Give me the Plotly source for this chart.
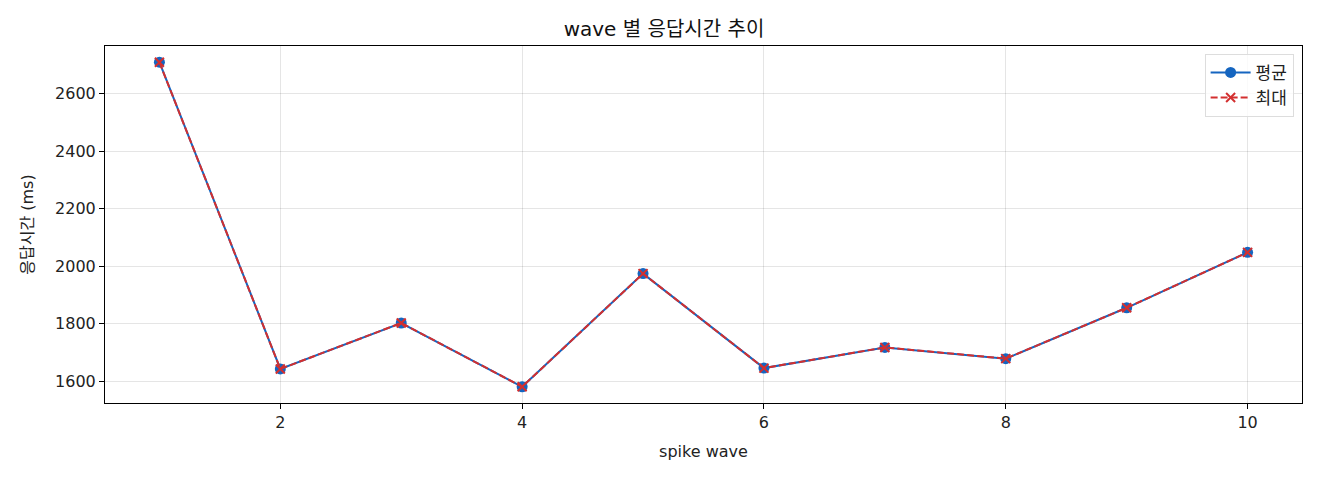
import plotly.graph_objects as go

# wave 번호와 응답시간 (ms)
waves = [1, 2, 3, 4, 5, 6, 7, 8, 9, 10]
avg_ms = [2710, 1642, 1802, 1580, 1974, 1645, 1717, 1678, 1855, 2048]
max_ms = [2710, 1642, 1802, 1580, 1974, 1645, 1717, 1678, 1855, 2048]

font_kr = "DejaVu Sans, Noto Sans CJK KR, sans-serif"

fig = go.Figure()

fig.add_trace(go.Scatter(
    x=waves, y=avg_ms,
    mode='lines+markers',
    name='평균',
    line=dict(color='#1565C0', width=2),
    marker=dict(symbol='circle', size=11, color='#1565C0'),
))

fig.add_trace(go.Scatter(
    x=waves, y=max_ms,
    mode='lines+markers',
    name='최대',
    line=dict(color='#D32F2F', width=2, dash='7px,3px'),
    marker=dict(symbol='x-thin', size=9, color='#D32F2F',
                line=dict(color='#D32F2F', width=2)),
))

axis_common = dict(
    showline=True, linecolor='black', linewidth=1, mirror=True,
    ticks='outside', ticklen=5, tickwidth=1, tickcolor='black',
    showgrid=True, gridcolor='rgba(0,0,0,0.1)', gridwidth=1,
    zeroline=False,
    tickfont=dict(size=16, color='#222'),
)

# 페이지 여백(8px)을 고려해 크기를 조금 줄임
fig.update_layout(
    width=1312, height=472,
    margin=dict(l=97, r=18, t=38, b=77),
    paper_bgcolor='white', plot_bgcolor='white',
    font=dict(family=font_kr, color='#222'),
    title=dict(text='wave 별 응답시간 추이', x=0.5, xanchor='center',
               y=0.955, yanchor='middle', font=dict(size=20, color='#111')),
    xaxis=dict(axis_common, range=[0.55, 10.45], tickvals=[2, 4, 6, 8, 10],
               title=dict(text='spike wave', font=dict(size=16), standoff=14)),
    yaxis=dict(axis_common, range=[1523.5, 2766.5],
               tickvals=[1600, 1800, 2000, 2200, 2400, 2600],
               title=dict(text='응답시간 (ms)', font=dict(size=16), standoff=17)),
    legend=dict(x=0.993, y=0.978, xanchor='right', yanchor='top',
                bgcolor='rgba(255,255,255,0.8)', bordercolor='#ddd', borderwidth=1,
                font=dict(size=17), itemwidth=40),
    showlegend=True,
)

fig.write_html("out.html")
